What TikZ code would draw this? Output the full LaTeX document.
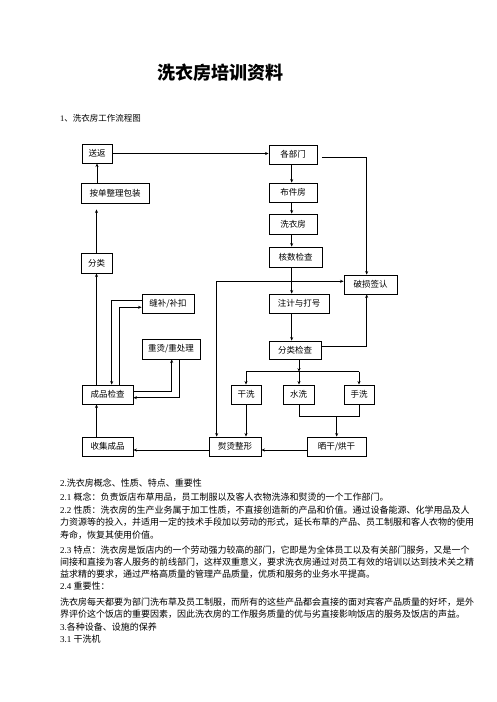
\documentclass[tikz,border=0pt]{standalone}
\usepackage{fontspec}
\setmainfont{Liberation Serif}
\newfontfamily\cjk{Noto Sans CJK SC}
\usetikzlibrary{arrows.meta,calc}
\begin{document}
\begin{tikzpicture}[x=1pt,y=-1pt,
  box/.style={draw,line width=0.9pt,inner sep=0pt,font=\cjk\fontsize{8.5}{10}\selectfont},
  ln/.style={line width=0.9pt},
  arr/.style={ln,-{Stealth[length=3.5pt,width=3pt]}},
  body/.style={anchor=base west,inner sep=0pt,font=\fontsize{9}{11}\selectfont}]
\fill[white] (0,0) rectangle (496,702);
\useasboundingbox (0,0) rectangle (496,702);
% title and heading
\node[inner sep=0pt,font=\cjk\bfseries\fontsize{18}{20}\selectfont] (title) at (220,73) {洗衣房培训资料};
\node[body,font=\fontsize{8.5}{10}\selectfont] (h1) at (60,121.2) {1{\cjk 、洗衣房工作流程图}};
% left column
\node[box,minimum width=30pt,minimum height=19pt] (sf) at (97,153.5) {送返};
\node[box,minimum width=68pt,minimum height=20pt] (ad) at (115,193) {按单整理包装};
\node[box,minimum width=31pt,minimum height=20pt] (fl) at (96.5,263) {分类};
\node[box,minimum width=52pt,minimum height=19pt] (fb) at (168,303.5) {缝补/补扣};
\node[box,minimum width=58pt,minimum height=20pt] (cc) at (171,349) {重烫/重处理};
\node[box,minimum width=51pt,minimum height=19pt] (cp) at (107.5,394.5) {成品检查};
\node[box,minimum width=51pt,minimum height=19pt] (sj) at (107.5,446.5) {收集成品};
% right column
\node[box,minimum width=48pt,minimum height=19pt] (gbm) at (293,154.5) {各部门};
\node[box,minimum width=48pt,minimum height=19pt] (bjf) at (293,192.5) {布件房};
\node[box,minimum width=48pt,minimum height=20pt] (xyf) at (293,224) {洗衣房};
\node[box,minimum width=53pt,minimum height=20pt] (hs) at (295.5,257) {核数检查};
\node[box,minimum width=53pt,minimum height=19pt] (ps) at (370.5,284.5) {破损签认};
\node[box,minimum width=60pt,minimum height=19pt] (zj) at (299,303.5) {注计与打号};
\node[box,minimum width=52pt,minimum height=18pt] (flj) at (295,350) {分类检查};
\node[box,minimum width=30pt,minimum height=19pt] (gx) at (246,394.5) {干洗};
\node[box,minimum width=31pt,minimum height=19pt] (sx) at (298.5,394.5) {水洗};
\node[box,minimum width=30pt,minimum height=19pt] (shx) at (359,394.5) {手洗};
\node[box,minimum width=52pt,minimum height=19pt] (ytz) at (235,446.5) {熨烫整形};
\node[box,minimum width=59pt,minimum height=19pt] (sg) at (336.5,446.5) {晒干/烘干};
% helper coordinates
\coordinate (vx) at (291.7,0);
\coordinate (j1) at (291.7,281.3);
\coordinate (lx) at (216.7,281.3);
\coordinate (j2) at (299,371.7);
\coordinate (j3) at (336.7,416.7);
\coordinate (rx) at (366.7,0);
% left connectors
\draw[arr] (sf.east) -- (sf.east -| gbm.west);
\draw[arr] (sf.south |- ad.north) -- (sf.south);
\draw[arr,shorten >=6pt] (fl.north) -- (fl.north |- ad.south);
\draw[arr] (fl.south |- cp.north) -- (fl.south);
\draw[arr] (fl.south |- sj.north) -- (fl.south |- cp.south);
\draw[arr] ([yshift=2.8pt]fb.west) -| ([xshift=4.2pt]cp.north);
\draw[arr] ([xshift=11.8pt]cp.north) |- ([yshift=-3.8pt]fb.west);
\draw[arr] ([yshift=3.5pt]cp.east) -| ([xshift=0.7pt]cc.south);
\draw[arr] ([xshift=8.3pt]cc.south) |- ([yshift=-3.2pt]cp.east);
% right connectors
\draw[arr] (gbm.south -| vx) -- (bjf.north -| vx);
\draw[arr] (bjf.south -| vx) -- (xyf.north -| vx);
\draw[arr] (xyf.south -| vx) -- (hs.north -| vx);
\draw[arr] (hs.south -| vx) -- (zj.north -| vx);
\draw[arr] (j1) -- (j1 -| ps.west);
\draw[arr] (j1) -- (lx) -- (lx |- ytz.north);
\draw[arr,shorten <=4.5pt] ([yshift=-2.8pt]gbm.east) -| (rx |- ps.north);
\draw[arr] (zj.south -| vx) -- (flj.north -| vx);
\draw[arr] ([yshift=4pt]flj.east) -| (rx |- ps.south);
\draw[arr] (j2 |- flj.south) -- (j2);
\draw[ln] (j2 -| gx.north) -- (j2 -| shx.north);
\draw[arr] (j2 -| gx.north) -- (gx.north);
\draw[arr] (j2) -- (j2 |- sx.north);
\draw[arr] (j2 -| shx.north) -- (shx.north);
\draw[ln] (sx.south -| j2) |- (j3) -| (shx.south);
\draw[arr] (j3) -- (j3 |- sg.north);
\draw[arr] (gx.south) -- (gx.south |- ytz.north);
\draw[arr] ([yshift=-3.5pt]sg.west) -- ([yshift=-3.5pt]ytz.east);
\draw[arr] ([yshift=-3.5pt]ytz.west) -- ([yshift=-3.5pt]sj.east);
% body text
\node[body] (t1) at (60,486.4) {2.{\cjk 洗衣房概念、性质、特点、重要性}};
\node[body] (t2) at (60,500.5) {2.1 {\cjk 概念：负责饭店布草用品，员工制服以及客人衣物洗涤和熨烫的一个工作部门。}};
\node[body] (t3) at (60,513.4) {2.2 {\cjk 性质：洗衣房的生产业务属于加工性质，不直接创造新的产品和价值。通过设备能源、化学用品及人}};
\node[body] (t4) at (60,525.5) {\cjk 力资源等的投入，并适用一定的技术手段加以劳动的形式，延长布草的产品、员工制服和客人衣物的使用};
\node[body] (t5) at (60,538) {\cjk 寿命，恢复其使用价值。};
\node[body] (t6) at (60,553.7) {2.3 {\cjk 特点：洗衣房是饭店内的一个劳动强力较高的部门，它即是为全体员工以及有关部门服务，又是一个}};
\node[body] (t7) at (60,565.8) {\cjk 间接和直接为客人服务的前线部门，这样双重意义，要求洗衣房通过对员工有效的培训以达到技术关之精};
\node[body] (t8) at (60,577.9) {\cjk 益求精的要求，通过严格高质量的管理产品质量，优质和服务的业务水平提高。};
\node[body] (t9) at (60,589.2) {2.4 {\cjk 重要性：}};
\node[body] (t10) at (60,605.3) {\cjk 洗衣房每天都要为部门洗布草及员工制服，而所有的这些产品都会直接的面对宾客产品质量的好坏，是外};
\node[body] (t11) at (60,617.4) {\cjk 界评价这个饭店的重要因素，因此洗衣房的工作服务质量的优与劣直接影响饭店的服务及饭店的声益。};
\node[body] (t12) at (60,630.3) {3.{\cjk 各种设备、设施的保养}};
\node[body] (t13) at (60,642.4) {3.1 {\cjk 干洗机}};
\end{tikzpicture}
\end{document}
